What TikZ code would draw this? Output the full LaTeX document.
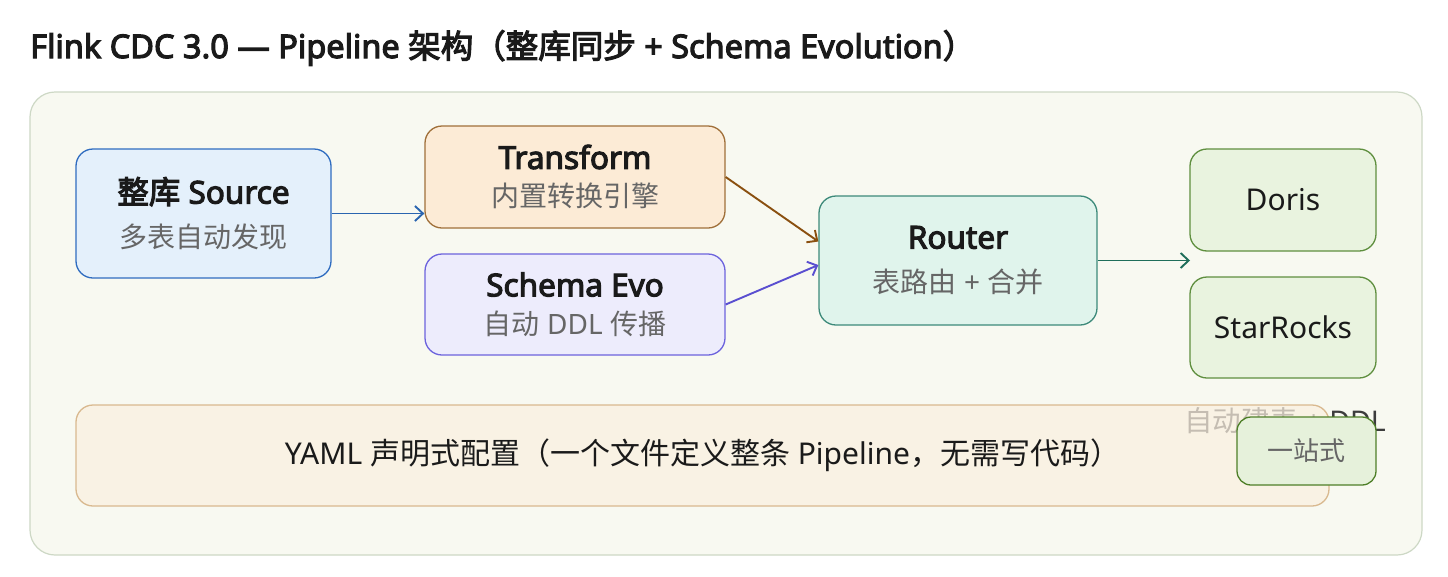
\documentclass[tikz,border=0pt]{standalone}
\usepackage{fontspec}
\setmainfont{Noto Sans}
\newfontfamily\latsb{Noto Sans}[FakeBold=3.5]
\newfontfamily\cjkreg{Noto Sans CJK SC}
\newfontfamily\cjksb{Noto Sans CJK SC}[FakeBold=3.5]
\let\cjkcur\cjkreg
\newcommand{\C}[1]{{\cjkcur #1}}
\newcommand{\SB}{\latsb\let\cjkcur\cjksb}
\usetikzlibrary{arrows.meta}
\definecolor{outerfill}{HTML}{F8F9F1}
\definecolor{outerline}{HTML}{CDD8C5}
\definecolor{srcfill}{HTML}{E4F0FB}
\definecolor{srcline}{HTML}{2F6CC0}
\definecolor{tffill}{HTML}{FCEBD6}
\definecolor{tfline}{HTML}{A0703A}
\definecolor{sefill}{HTML}{EDECFC}
\definecolor{seline}{HTML}{6C63DD}
\definecolor{rtfill}{HTML}{E0F4EC}
\definecolor{rtline}{HTML}{3D8A7A}
\definecolor{dbfill}{HTML}{E9F3DF}
\definecolor{dbline}{HTML}{5F8F3F}
\definecolor{yamlfill}{HTML}{FAF0E0}
\definecolor{yamlline}{HTML}{D9B98F}
\definecolor{onefill}{HTML}{E6F1DB}
\definecolor{oneline}{HTML}{4E7F28}
\definecolor{txt}{HTML}{1A1A1A}
\definecolor{subtxt}{HTML}{666666}
\definecolor{arblue}{HTML}{2A65B0}
\definecolor{arbrown}{HTML}{8A5010}
\definecolor{arpurple}{HTML}{5A4FD0}
\definecolor{arteal}{HTML}{1F6E5A}
\newcommand{\ttlA}[1]{{\fontsize{31.5}{44}\selectfont\SB #1}}
\newcommand{\subA}[1]{{\fontsize{28}{44}\selectfont\color{subtxt}#1}}
\newcommand{\ttlB}[1]{{\fontsize{31.5}{38}\selectfont\SB #1}}
\newcommand{\subB}[1]{{\fontsize{28}{38}\selectfont\color{subtxt}#1}}
\begin{document}
\begin{tikzpicture}[x=1pt,y=-1pt,
  box/.style={draw, line width=1.3pt, rounded corners=17pt, align=center, text=txt, inner sep=0pt},
  arr/.style={line width=1.9pt, -{Straight Barb[length=8pt,width=15pt,line width=1.9pt]}},
]
\useasboundingbox (0,0) rectangle (1448,576);
\fill[white] (0,0) rectangle (1448,576);
\node[anchor=base west, text=txt, font=\fontsize{32.5}{34}\selectfont\SB, inner sep=0pt] (title) at (30,58) {Flink CDC 3.0 — Pipeline \C{架构（整库同步} + Schema Evolution\C{）}};
\node[draw=outerline, fill=outerfill, line width=1.2pt, rounded corners=25pt, minimum width=1392pt, minimum height=463pt, inner sep=0pt] (outer) at (726,323.5) {};

\node[box, draw=srcline, fill=srcfill, minimum width=255pt, minimum height=129pt, font=\fontsize{28}{44}\selectfont] (src) at (203.5,213.5) {\ttlA{\C{整库} Source}\\\subA{\C{多表自动发现}}};
\node[box, draw=tfline, fill=tffill, minimum width=300pt, minimum height=102pt, font=\fontsize{28}{38}\selectfont] (tf) at (575,177) {\ttlB{Transform}\\\subB{\C{内置转换引擎}}};
\node[box, draw=seline, fill=sefill, minimum width=300pt, minimum height=101pt, font=\fontsize{28}{38}\selectfont] (se) at (575,304.5) {\ttlB{Schema Evo}\\\subB{\C{自动} DDL \C{传播}}};
\node[box, draw=rtline, fill=rtfill, minimum width=278pt, minimum height=129pt, font=\fontsize{28}{44}\selectfont] (rt) at (958,260.5) {\ttlA{Router}\\\subA{\C{表路由} + \C{合并}}};
\node[box, draw=dbline, fill=dbfill, minimum width=186pt, minimum height=102pt, font=\fontsize{30}{32}\selectfont] (doris) at (1283,200) {Doris};
\node[box, draw=dbline, fill=dbfill, minimum width=186pt, minimum height=101pt, font=\fontsize{30}{32}\selectfont] (sr) at (1283,327.5) {StarRocks};

\node[anchor=west, text=txt!85, font=\fontsize{28.5}{30}\selectfont, inner sep=0pt] (ddl) at (1184,421) {\C{自动建表} + DDL};
\node[box, draw=yamlline, fill=yamlfill, fill opacity=0.72, text opacity=1, minimum width=1253pt, minimum height=101pt, font=\fontsize{30}{32}\selectfont] (yaml) at (702.5,455.5) {YAML \C{声明式配置（一个文件定义整条} Pipeline\C{，无需写代码）}};
\node[box, draw=oneline, fill=onefill, rounded corners=14pt, minimum width=139pt, minimum height=68pt, text=subtxt, font=\fontsize{26}{30}\selectfont] (one) at (1306.5,451) {\C{一站式}};

\coordinate (sink) at (1190,260.5);
\draw[arr, arblue] (src.east) -- (src.east -| tf.west);
\draw[arr, arbrown] (tf.east) -- ([yshift=19pt]rt.west);
\draw[arr, arpurple] (se.east) -- ([yshift=-4.5pt]rt.west);
\draw[arr, arteal] (rt.east) -- (sink);
\end{tikzpicture}
\end{document}
